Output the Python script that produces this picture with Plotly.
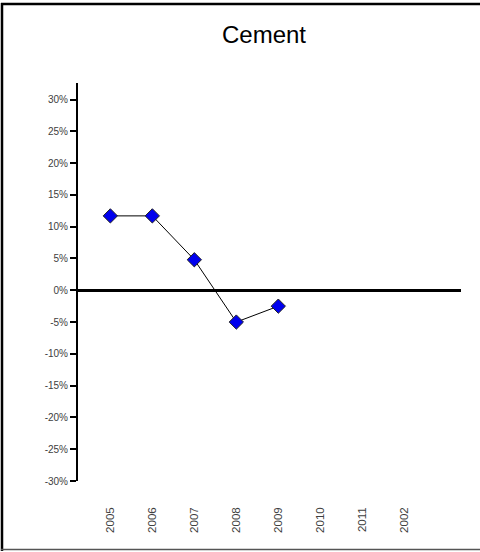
import plotly.graph_objects as go

# Annual change in cement, by year (percent)
years = ["2005", "2006", "2007", "2008", "2009", "2010", "2011", "2002"]
change_pct = [11.7, 11.7, 4.8, -5.0, -2.5, None, None, None]
y_ticks = [30, 25, 20, 15, 10, 5, 0, -5, -10, -15, -20, -25, -30]

W, H = 480, 552
L, R, T, B = 78, 19, 83, 71
pw, ph = W - L - R, H - T - B

def px_x(x):
    return (x - L) / pw

def px_y(y):
    return (H - B - y) / ph

FONT = "Liberation Sans Narrow, Arial Narrow, Liberation Sans, Arial, sans-serif"

fig = go.Figure()
fig.add_trace(go.Scatter(
    x=years, y=change_pct, mode="lines+markers",
    line=dict(color="black", width=1),
    marker=dict(symbol="diamond", size=11, color="#0000ee",
                line=dict(color="#222222", width=1)),
    connectgaps=False, showlegend=False, hoverinfo="x+y",
))

fig.update_layout(
    width=W, height=H,
    margin=dict(l=L, r=R, t=T, b=B, pad=0),
    paper_bgcolor="white", plot_bgcolor="white",
    title=dict(text="Cement", x=264 / W, xanchor="center",
               y=1 - 35 / H, yanchor="middle",
               font=dict(family=FONT, size=24, color="black")),
    font=dict(family=FONT),
    xaxis=dict(
        type="category", categoryorder="array", categoryarray=years,
        range=[-0.77, 8.35], showgrid=False, zeroline=False, showline=False,
        ticks="", tickangle=-90, ticklabelstandoff=23,
        tickfont=dict(family=FONT, size=11.5, color="#404040"),
        tickvals=years, ticktext=years, fixedrange=True,
    ),
    yaxis=dict(
        range=[-30, 32.6], tickvals=y_ticks, ticktext=[f"{v}%" for v in y_ticks],
        showgrid=False, zeroline=True, zerolinecolor="black", zerolinewidth=3,
        showline=True, linecolor="black", linewidth=2,
        ticks="outside", ticklen=6, tickwidth=2, tickcolor="black",
        tickfont=dict(family=FONT, size=10, color="#404040"),
        fixedrange=True,
    ),
)

# Frame around the chart: left and top black, bottom gray
fig.add_shape(type="line", xref="paper", yref="paper",
              x0=px_x(2), x1=px_x(2), y0=px_y(3), y1=px_y(551),
              line=dict(color="black", width=2.5))
fig.add_shape(type="line", xref="paper", yref="paper",
              x0=px_x(1), x1=px_x(481), y0=px_y(4), y1=px_y(4),
              line=dict(color="black", width=2.5))
fig.add_shape(type="line", xref="paper", yref="paper",
              x0=px_x(1), x1=px_x(481), y0=px_y(549.5), y1=px_y(549.5),
              line=dict(color="#555555", width=1.5))

fig.write_html("out.html")
